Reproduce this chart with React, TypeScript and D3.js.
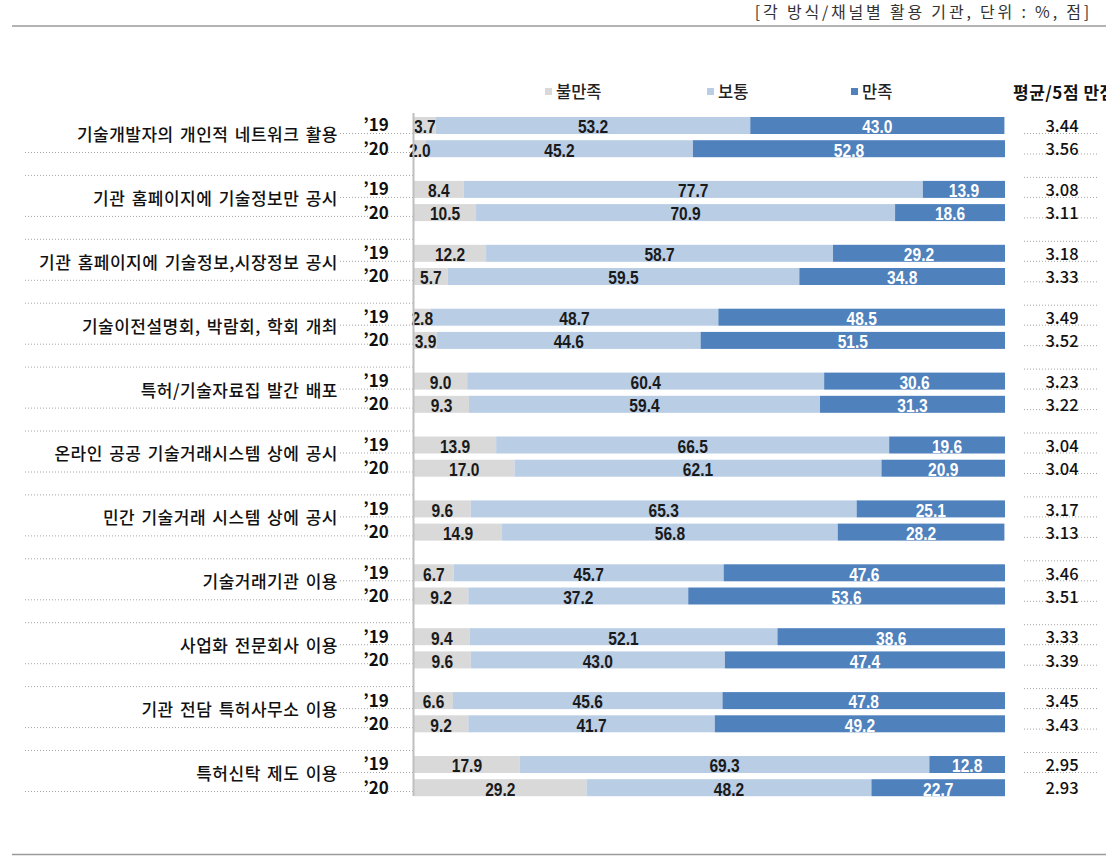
import React from "react";
import * as d3 from "d3";

const categories = [
  "기술개발자의 개인적 네트워크 활용",
  "기관 홈페이지에 기술정보만 공시",
  "기관 홈페이지에 기술정보,시장정보 공시",
  "기술이전설명회, 박람회, 학회 개최",
  "특허/기술자료집 발간 배포",
  "온라인 공공 기술거래시스템 상에 공시",
  "민간 기술거래 시스템 상에 공시",
  "기술거래기관 이용",
  "사업화 전문회사 이용",
  "기관 전담 특허사무소 이용",
  "특허신탁 제도 이용",
];
const years = ["’19", "’20"];
const seriesNames = ["불만족", "보통", "만족"];

const dissat19 = [3.7, 8.4, 12.2, 2.8, 9.0, 13.9, 9.6, 6.7, 9.4, 6.6, 17.9];
const normal19 = [53.2, 77.7, 58.7, 48.7, 60.4, 66.5, 65.3, 45.7, 52.1, 45.6, 69.3];
const sat19 = [43.0, 13.9, 29.2, 48.5, 30.6, 19.6, 25.1, 47.6, 38.6, 47.8, 12.8];
const dissat20 = [2.0, 10.5, 5.7, 3.9, 9.3, 17.0, 14.9, 9.2, 9.6, 9.2, 29.2];
const normal20 = [45.2, 70.9, 59.5, 44.6, 59.4, 62.1, 56.8, 37.2, 43.0, 41.7, 48.2];
const sat20 = [52.8, 18.6, 34.8, 51.5, 31.3, 20.9, 28.2, 53.6, 47.4, 49.2, 22.7];
const mean19 = ["3.44", "3.08", "3.18", "3.49", "3.23", "3.04", "3.17", "3.46", "3.33", "3.45", "2.95"];
const mean20 = ["3.56", "3.11", "3.33", "3.52", "3.22", "3.04", "3.13", "3.51", "3.39", "3.43", "2.93"];

const colors = ["#d9d9d9", "#b9cde5", "#4f81bd"];
const labelColors = ["#1a1a1a", "#1a1a1a", "#ffffff"];
const KR = "'Noto Sans CJK KR', 'Noto Sans', sans-serif";
const NUM = "'Liberation Sans', Arial, sans-serif";

export default function App() {
  const W = 1119;
  const H = 867;
  const x = d3.scaleLinear().domain([0, 100]).range([414, 1005]);
  const pitch = 63.9;
  const g = d3
    .scaleBand<string>()
    .domain(categories)
    .range([111, 111 + categories.length * pitch]);
  const yr = d3.scaleBand<string>().domain(years).range([6, 48]).paddingInner(0.19).paddingOuter(0);
  const bh = 17;

  const rows = categories.map((c, i) => ({
    cat: c,
    data: [
      { year: years[0], vals: [dissat19[i], normal19[i], sat19[i]], mean: mean19[i] },
      { year: years[1], vals: [dissat20[i], normal20[i], sat20[i]], mean: mean20[i] },
    ],
  }));

  const dot = { stroke: "#a6a6a6", strokeWidth: 1, strokeDasharray: "1,2" };

  return (
    <svg width={W} height={H} style={{ display: "block", position: "absolute", left: 0, top: 0 }}>
      <defs>
        <clipPath id="clipR">
          <rect x={0} y={0} width={1106} height={H} />
        </clipPath>
      </defs>
      <rect x={0} y={0} width={W} height={H} fill="#fff" />
      <text x={1092} y={18} textAnchor="end" fontFamily={KR} fontSize={16} letterSpacing={2.8} fill="#333">
        [각 방식/채널별 활용 기관, 단위 : %, 점]
      </text>
      <line x1={12} x2={1106} y1={26} y2={26} stroke="#9a9a9a" strokeWidth={1.5} />
      <line x1={12} x2={1106} y1={854.5} y2={854.5} stroke="#9a9a9a" strokeWidth={1.5} />

      {/* legend */}
      {seriesNames.map((s, i) => {
        const lx = [545, 707, 851][i];
        return (
          <g key={s}>
            <rect x={lx} y={88} width={7} height={7} fill={colors[i]} />
            <text x={lx + 11} y={98} fontFamily={KR} fontSize={16.5} fontWeight={500} fill="#222">
              {s}
            </text>
          </g>
        );
      })}
      <g clipPath="url(#clipR)">
        <text x={1013} y={99} fontFamily={KR} fontSize={17} fontWeight="bold" letterSpacing={0.5} fill="#111">
          평균/5점 만점
        </text>
      </g>

      {rows.map((r, gi) => {
        const gy = g(r.cat)!;
        return (
          <g key={r.cat}>
            {gi > 0 && <line x1={25} x2={413} y1={gy + 0.5} y2={gy + 0.5} {...dot} />}
            <line x1={340} x2={413} y1={gy + 22.5} y2={gy + 22.5} {...dot} />
            <line x1={25} x2={413} y1={gy + 41.5} y2={gy + 41.5} {...dot} />
            {gi > 0 && <line x1={1024} x2={1097} y1={gy + 2.5} y2={gy + 2.5} {...dot} />}
            <line x1={1024} x2={1097} y1={gy + 22.5} y2={gy + 22.5} {...dot} />
            {gi < rows.length - 1 && <line x1={1024} x2={1097} y1={gy + 43} y2={gy + 43} {...dot} />}
            <text
              x={338}
              y={gy + 24}
              dy="0.35em"
              textAnchor="end"
              fontFamily={KR}
              fontSize={17}
              fontWeight={500}
              letterSpacing={0.5}
              wordSpacing={2}
              fill="#111"
            >
              {r.cat}
            </text>
            {r.data.map((d) => {
              const by = gy + yr(d.year)!;
              let acc = 0;
              return (
                <g key={d.year}>
                  <text x={376} y={by + bh / 2} dy="0.35em" textAnchor="middle" fontFamily={KR} fontSize={17} fontWeight="bold" fill="#111">
                    {d.year}
                  </text>
                  {d.vals.map((v, si) => {
                    const x0 = x(acc);
                    acc += v;
                    const x1 = Math.min(x(acc), x(100));
                    return (
                      <rect key={"r" + si} x={x0} y={by} width={Math.max(0, x1 - x0)} height={bh} fill={colors[si]} />
                    );
                  })}
                  {(() => {
                    let a2 = 0;
                    return d.vals.map((v, si) => {
                      const x0 = x(a2);
                      a2 += v;
                      const x1 = Math.min(x(a2), x(100));
                      const cx = (x0 + x1) / 2;
                      const cy = by + bh / 2 + 1;
                      return (
                        <text
                          key={"t" + si}
                          transform={`translate(${cx},${cy}) scale(0.82,1)`}
                          x={0}
                          y={0}
                          dy="0.36em"
                          textAnchor="middle"
                          fontFamily={NUM}
                          fontWeight="bold"
                          fontSize={19}
                          fill={labelColors[si]}
                        >
                          {v.toFixed(1)}
                        </text>
                      );
                    });
                  })()}
                  <text x={1062} y={by + bh / 2 + 1} dy="0.35em" textAnchor="middle" fontFamily={KR} fontSize={16.5} fontWeight={500} fill="#111">
                    {d.mean}
                  </text>
                </g>
              );
            })}
          </g>
        );
      })}
      <line x1={413.5} x2={413.5} y1={113} y2={796} stroke="#bfbfbf" strokeWidth={2} />
    </svg>
  );
}
